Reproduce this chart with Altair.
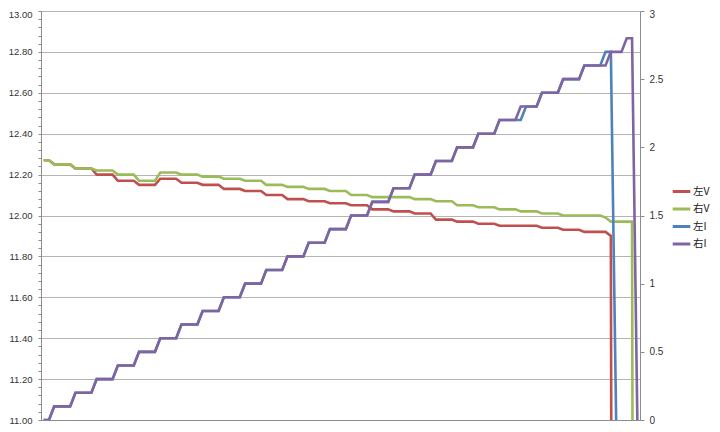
import altair as alt
import pandas as pd

series_names = ["左V", "右V", "左I", "右I"]
series_colors = ["#C0504D", "#9BBB59", "#4F81BD", "#8064A2"]

# readings as runs: value and how many consecutive samples it holds
left_v_values = [12.27, 12.25, 12.23, 12.20, 12.17, 12.15, 12.18, 12.16, 12.15, 12.13,
                 12.12, 12.10, 12.08, 12.07, 12.06, 12.05, 12.03, 12.02, 12.01, 11.98,
                 11.97, 11.96, 11.95, 11.95, 11.94, 11.93, 11.92, 11.90, 0.0]
left_v_counts = [2, 4, 4, 4, 4, 4, 4, 4, 4, 4, 4, 4, 4, 4, 4, 4, 4, 4, 4, 4,
                 4, 4, 4, 4, 4, 4, 5, 1, 1]

right_v_values = [12.27, 12.25, 12.23, 12.22, 12.20, 12.17, 12.21, 12.20, 12.19, 12.18,
                  12.17, 12.15, 12.14, 12.13, 12.12, 12.10, 12.09, 12.09, 12.08, 12.07,
                  12.05, 12.04, 12.03, 12.02, 12.01, 12.00, 12.00, 11.99, 11.97, 0.0]
right_v_counts = [2, 4, 4, 4, 4, 4, 4, 4, 4, 4, 4, 4, 4, 4, 4, 4, 4, 4, 4, 4,
                  4, 4, 4, 4, 4, 4, 4, 1, 5, 1]

left_i_values = [0.0, 0.1, 0.2, 0.3, 0.4, 0.5, 0.6, 0.7, 0.8, 0.9, 1.0, 1.1, 1.2, 1.3,
                 1.4, 1.5, 1.6, 1.7, 1.8, 1.9, 2.0, 2.1, 2.2, 2.3, 2.4, 2.5, 2.6, 2.7, 0.0]
left_i_counts = [2, 4, 4, 4, 4, 4, 4, 4, 4, 4, 4, 4, 4, 4,
                 4, 4, 4, 4, 4, 4, 4, 4, 5, 3, 4, 4, 4, 2, 1]

right_i_values = [0.0, 0.1, 0.2, 0.3, 0.4, 0.5, 0.6, 0.7, 0.8, 0.9, 1.0, 1.1, 1.2, 1.3,
                  1.4, 1.5, 1.6, 1.7, 1.8, 1.9, 2.0, 2.1, 2.2, 2.3, 2.4, 2.5, 2.6, 2.7,
                  2.8, 0.0]
right_i_counts = [2, 4, 4, 4, 4, 4, 4, 4, 4, 4, 4, 4, 4, 4,
                  4, 4, 4, 4, 4, 4, 4, 4, 4, 4, 4, 4, 5, 3, 2, 1]

left_axis_ticks = [round(11 + 0.04 * i, 2) for i in range(51)]
right_axis_ticks = [0, 0.5, 1, 1.5, 2, 2.5, 3]


def expand(values, counts):
    out = []
    for v, c in zip(values, counts):
        out.extend([v] * c)
    return out


rows = []
for name, vals, cnts in [("左V", left_v_values, left_v_counts),
                         ("右V", right_v_values, right_v_counts),
                         ("左I", left_i_values, left_i_counts),
                         ("右I", right_i_values, right_i_counts)]:
    for i, v in enumerate(expand(vals, cnts)):
        rows.append({"idx": i, "series": name, "value": v})
df = pd.DataFrame(rows)

AXIS_GRAY = "#8c8c8c"
FONT = "Liberation Sans"

x_enc = alt.X("idx:Q",
              scale=alt.Scale(domain=[-0.5, 112.5], nice=False, zero=False),
              axis=alt.Axis(title=None, labels=False, ticks=False, grid=False,
                            domainColor=AXIS_GRAY, domainWidth=1))

color_enc = alt.Color("series:N",
                      scale=alt.Scale(domain=series_names, range=series_colors),
                      legend=alt.Legend(title=None, orient="none", legendX=630, legendY=170,
                                        symbolType="stroke", symbolStrokeWidth=3,
                                        symbolSize=310, labelFontSize=10.5,
                                        labelFont="Noto Sans CJK SC", labelColor="#222",
                                        rowPadding=0.5, labelOffset=1, padding=0))

major = "abs(datum.value*5 - round(datum.value*5)) < 0.001"

left_axis = alt.Axis(title=None, values=left_axis_ticks,
                     labelExpr=f"({major}) ? format(datum.value, '.2f') : ''",
                     gridOpacity={"condition": {"test": major, "value": 1}, "value": 0},
                     labelOffset={"condition": {"test": "datum.value > 12.99", "value": 3}, "value": 0},
                     grid=True, gridColor="#b4b4b4", gridWidth=1,
                     tickSize=3, tickColor=AXIS_GRAY, labelPadding=6,
                     labelOverlap=False, labelBound=False, labelFlush=False,
                     domainColor=AXIS_GRAY, labelFont=FONT, labelFontSize=9.5,
                     labelColor="#333")

right_axis = alt.Axis(title=None, orient="right", values=right_axis_ticks, format="~g",
                      labelOffset={"condition": {"test": "datum.value > 2.99", "value": 3}, "value": 0},
                      grid=False, tickSize=4, tickColor=AXIS_GRAY, labelPadding=5,
                      labelOverlap=False, labelBound=False, labelFlush=False,
                      domainColor=AXIS_GRAY, labelFont=FONT, labelFontSize=10,
                      labelColor="#333")

base = alt.Chart(df)


def series_layer(name, axis, domain):
    return base.transform_filter(alt.datum.series == name).mark_line(
        strokeWidth=2.6, clip=True, interpolate="linear"
    ).encode(
        x=x_enc,
        y=alt.Y("value:Q", scale=alt.Scale(domain=domain, nice=False, zero=False), axis=axis),
        color=color_enc,
        order=alt.Order("idx:Q"),
    )


v_layer = alt.layer(series_layer("左V", left_axis, [11, 13]),
                    series_layer("右V", left_axis, [11, 13]))
i_layer = alt.layer(series_layer("左I", right_axis, [0, 3]),
                    series_layer("右I", right_axis, [0, 3]))

chart = alt.layer(v_layer, i_layer).resolve_scale(y="independent").properties(
    width=599, height=409,
    autosize=alt.AutoSizeParams(type="none"),
    padding={"left": 33, "top": 3, "right": 72, "bottom": 4},
    background="white",
).configure_view(stroke=None)

chart.save("out.html", embed_options={"renderer": "svg", "actions": False})
